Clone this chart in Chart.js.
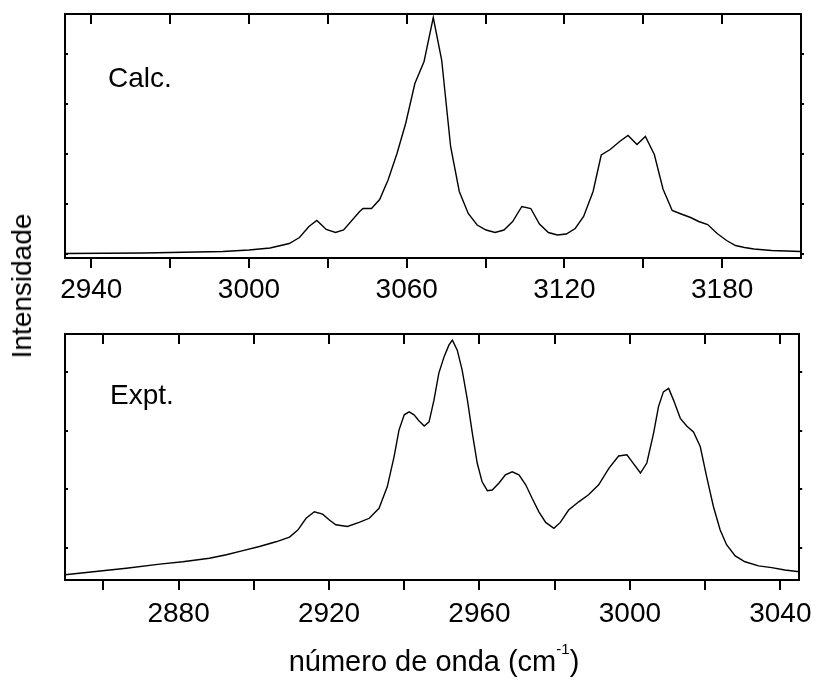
<!DOCTYPE html>
<html>
<head>
<meta charset="utf-8">
<script src="https://cdn.jsdelivr.net/npm/chart.js@4"></script>
<style>
  body { margin: 0; background: #fff; }
  #wrap { position: relative; width: 819px; height: 683px; font-family: "Liberation Sans", Arial, sans-serif; color: #000; }
  canvas { position: absolute; left: 0; }
  .lbl { position: absolute; font-size: 28px; line-height: 1; white-space: nowrap; }
  .sup { position: relative; top: -17px; font-size: 15px; }
</style>
</head>
<body>
<div id="wrap">
  <canvas id="calc-chart" width="819" height="310" style="top:0"></canvas>
  <canvas id="expt-chart" width="819" height="373" style="top:310px"></canvas>
  <div class="lbl" style="left:108px;top:64px">Calc.</div>
  <div class="lbl" style="left:110px;top:381px">Expt.</div>
  <div class="lbl" style="left:22px;top:286px;transform:translate(-50%,-50%) rotate(-90deg)">Intensidade</div>
  <div class="lbl" style="left:434px;top:647px;font-size:29px;transform:translateX(-50%)">número de onda (cm<span class="sup">-1</span>)</div>
</div>
<script>
// Espectro calculado
const calcWavenumber = [2930, 2960, 2980, 2990, 3000, 3008, 3015.3, 3019.2, 3022.8, 3025.8,
    3029.4, 3032.9, 3036, 3042.1, 3043.4, 3046.6, 3049.7, 3052.9, 3056.3, 3059.6,
    3063.1, 3066.6, 3070.1, 3073.3, 3076.7, 3080, 3083.4, 3086.8, 3090.2, 3093.6,
    3097, 3100.3, 3103.8, 3107.2, 3110.5, 3113.9, 3117.3, 3120.7, 3124.1, 3127.3,
    3130.9, 3134, 3137.4, 3141, 3144.2, 3147.6, 3150.8, 3154.2, 3157.5, 3161,
    3164.4, 3168, 3171.1, 3174.5, 3178.1, 3181.7, 3185.1, 3188.5, 3192.1, 3198.8, 3210];
const calcIntensity = [0.01, 0.02, 0.04, 0.05, 0.08, 0.12, 0.21, 0.33, 0.55, 0.67,
    0.49, 0.43, 0.48, 0.85, 0.91, 0.91, 1.09, 1.48, 2.01, 2.61,
    3.41, 3.85, 4.73, 3.88, 2.15, 1.25, 0.81, 0.58, 0.48, 0.43,
    0.48, 0.65, 0.95, 0.91, 0.60, 0.43, 0.38, 0.40, 0.51, 0.75,
    1.25, 1.98, 2.09, 2.25, 2.37, 2.19, 2.35, 1.99, 1.30, 0.87,
    0.80, 0.73, 0.65, 0.59, 0.41, 0.27, 0.17, 0.13, 0.10, 0.07, 0.05];

// Espectro experimental
const exptWavenumber = [2849.8, 2857.3, 2866.1, 2875, 2881.1, 2888.2, 2892.7, 2897.1, 2901.5, 2905.9,
    2909.5, 2911.7, 2913.9, 2916.1, 2918.3, 2920.1, 2921.8, 2924.9, 2928, 2930.7,
    2933.3, 2935.5, 2937.3, 2938.6, 2940, 2941.3, 2942.6, 2943.9, 2945.3, 2946.6,
    2947.9, 2949.2, 2950.6, 2951.9, 2952.8, 2954.1, 2955.4, 2956.8, 2958.1, 2959.4,
    2960.7, 2962.1, 2963.4, 2965.2, 2966.9, 2968.7, 2970.5, 2972.3, 2974, 2975.8,
    2977.6, 2979.8, 2981.5, 2983.7, 2986.4, 2989, 2991.7, 2994.4, 2997, 2999.2,
    3000.6, 3002.8, 3004.5, 3006.3, 3007.6, 3008.9, 3010.3, 3011.6, 3013.4, 3015.1,
    3016.9, 3018.7, 3020.4, 3022.2, 3024, 3025.7, 3028, 3030.6, 3034.2, 3037.7, 3041.2, 3045];
const exptIntensity = [-0.45, -0.40, -0.34, -0.27, -0.23, -0.17, -0.11, -0.04, 0.03, 0.11,
    0.19, 0.31, 0.51, 0.62, 0.58, 0.48, 0.40, 0.37, 0.44, 0.51,
    0.68, 1.05, 1.56, 2.01, 2.27, 2.32, 2.27, 2.17, 2.08, 2.15,
    2.52, 2.98, 3.26, 3.46, 3.54, 3.37, 3.03, 2.52, 1.96, 1.45,
    1.13, 0.98, 0.99, 1.11, 1.25, 1.30, 1.25, 1.08, 0.85, 0.62,
    0.44, 0.34, 0.44, 0.65, 0.79, 0.91, 1.08, 1.36, 1.57, 1.59,
    1.47, 1.28, 1.45, 1.96, 2.41, 2.66, 2.72, 2.52, 2.21, 2.08,
    1.98, 1.73, 1.22, 0.71, 0.31, 0.06, -0.13, -0.23, -0.30, -0.33, -0.37, -0.40];

// Marcas dos eixos
const calcTicks = [2940, 2970, 3000, 3030, 3060, 3090, 3120, 3150, 3180];
const calcTickLabels = [2940, 3000, 3060, 3120, 3180];
const exptTicks = [2860, 2880, 2900, 2920, 2940, 2960, 2980, 3000, 3020, 3040];
const exptTickLabels = [2880, 2920, 2960, 3000, 3040];
const calcYTicks = [0, 1, 2, 3, 4];
const exptYTicks = [0, 1, 2, 3];

const FONT = "'Liberation Sans', Arial, sans-serif";

function frameAxis(position, ticks, min, max, tickLength, extra) {
    return Object.assign({
        type: "linear",
        position: position,
        min: min,
        max: max,
        afterBuildTicks: s => { s.ticks = ticks.map(v => ({ value: v })); },
        afterFit: s => {
            if (position === "left" || position === "right") s.width = 0;
            else s.height = 0;
        },
        grid: { drawOnChartArea: false, drawTicks: true, tickLength: tickLength, color: "#000", lineWidth: 2 },
        border: { display: true, color: "#000", width: 2 },
        ticks: { display: false }
    }, extra || {});
}

function makePanel(canvasId, xs, ys, cfg) {
    const points = xs.map((x, i) => ({ x: x, y: ys[i] }));
    const bottom = frameAxis("bottom", cfg.xTicks, cfg.xMin, cfg.xMax, 10, {
        afterFit: s => { s.height = cfg.axisHeight; },
        ticks: {
            display: true,
            autoSkip: false,
            maxRotation: 0,
            minRotation: 0,
            padding: cfg.labelPad,
            color: "#000",
            font: { family: FONT, size: 28 },
            callback: v => cfg.xLabels.includes(v) ? String(v) : ""
        }
    });
    return new Chart(document.getElementById(canvasId), {
        type: "line",
        data: {
            datasets: [{
                data: points,
                xAxisID: "x",
                yAxisID: "y",
                borderColor: "#000",
                borderWidth: 1.4,
                pointRadius: 0,
                tension: 0,
                fill: false
            }]
        },
        options: {
            responsive: false,
            animation: false,
            events: [],
            layout: { padding: { left: 65, right: 18, top: cfg.padTop, bottom: 0 } },
            plugins: { legend: { display: false }, tooltip: { enabled: false } },
            scales: {
                x: bottom,
                xTop: frameAxis("top", cfg.xTicks, cfg.xMin, cfg.xMax, -10),
                y: frameAxis("left", cfg.yTicks, cfg.yMin, cfg.yMax, -3),
                yRight: frameAxis("right", cfg.yTicks, cfg.yMin, cfg.yMax, 3)
            }
        }
    });
}

makePanel("calc-chart", calcWavenumber, calcIntensity, {
    xMin: 2930, xMax: 3210, yMin: -0.08, yMax: 4.8,
    xTicks: calcTicks, xLabels: calcTickLabels, yTicks: calcYTicks,
    padTop: 14, axisHeight: 52, labelPad: 5
});

makePanel("expt-chart", exptWavenumber, exptIntensity, {
    xMin: 2849.8, xMax: 3045, yMin: -0.54, yMax: 3.645,
    xTicks: exptTicks, xLabels: exptTickLabels, yTicks: exptYTicks,
    padTop: 24, axisHeight: 103, labelPad: 7
});
</script>
</body>
</html>
